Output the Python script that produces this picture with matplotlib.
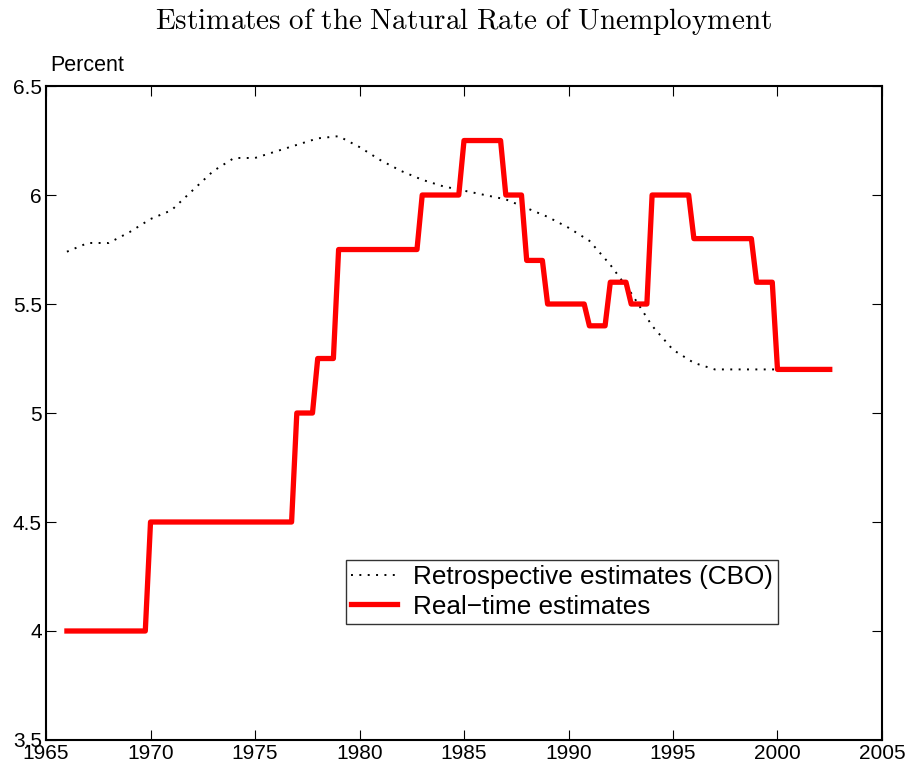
import numpy as np
import matplotlib
matplotlib.use('Agg')
import matplotlib.pyplot as plt

# real-time estimates: one value per year, held for four quarters
rt_years = np.arange(1966, 2003)
rt_values = [4.0, 4.0, 4.0, 4.0,
             4.5, 4.5, 4.5, 4.5, 4.5, 4.5, 4.5,
             5.0, 5.25,
             5.75, 5.75, 5.75, 5.75,
             6.0, 6.0,
             6.25, 6.25,
             6.0, 5.7, 5.5, 5.5, 5.4, 5.6, 5.5,
             6.0, 6.0,
             5.8, 5.8, 5.8,
             5.6,
             5.2, 5.2, 5.2]

# retrospective CBO estimates
cbo_years = [1966, 1967, 1968, 1969, 1970, 1971, 1972, 1973, 1974, 1975,
             1976, 1977, 1978, 1979, 1980, 1981, 1982, 1983, 1984, 1985,
             1986, 1987, 1988, 1989, 1990, 1991, 1992, 1993, 1994, 1995,
             1996, 1997, 1998, 1999, 2000, 2001, 2002, 2002.5]
cbo_values = [5.74, 5.78, 5.78, 5.83, 5.89, 5.93, 6.02, 6.11, 6.17, 6.17,
              6.20, 6.23, 6.26, 6.27, 6.22, 6.16, 6.11, 6.07, 6.04, 6.02,
              6.00, 5.98, 5.94, 5.90, 5.85, 5.79, 5.68, 5.55, 5.40, 5.29,
              5.23, 5.20, 5.20, 5.20, 5.20, 5.20, 5.20, 5.20]

x_ticks = np.arange(1965, 2006, 5)
y_ticks = np.arange(3.5, 6.51, 0.5)

# quarterly positions for the real-time series (data stop at 2002Q3)
rt_x = (np.repeat(rt_years, 4) + np.tile([0, 0.25, 0.5, 0.75], len(rt_years)))[:-1]
rt_y = np.repeat(rt_values, 4)[:-1]

plt.rcParams['font.family'] = ['Liberation Sans', 'DejaVu Sans']
plt.rcParams['mathtext.fontset'] = 'cm'

fig = plt.figure(figsize=(9.06, 7.73), dpi=100)
ax = fig.add_axes([0.0508, 0.0427, 0.9227, 0.846])

ax.plot(cbo_years, cbo_values, color='black', lw=1.4, linestyle=(0, (1.0, 3.3)),
        label='Retrospective estimates (CBO)')
ax.plot(rt_x, rt_y, color='#ff0000', lw=3.8, solid_joinstyle='round',
        label='Real\u2212time estimates')

ax.set_xlim(1965, 2005)
ax.set_ylim(3.5, 6.5)
ax.set_xticks(x_ticks)
ax.set_yticks(y_ticks)
ax.set_xticklabels([str(t) for t in x_ticks])
ax.set_yticklabels([f'{t:g}' for t in y_ticks])
ax.tick_params(direction='in', length=7, width=0.8, top=True, right=True,
               labelsize=15, pad=3)
for s in ax.spines.values():
    s.set_linewidth(1.5)

ax.set_title(r'$\mathrm{Estimates\ of\ the\ Natural\ Rate\ of\ Unemployment}$',
             fontsize=21, pad=41)
ax.text(0.005, 1.015, 'Percent', transform=ax.transAxes, fontsize=15.5,
        ha='left', va='bottom')

leg = ax.legend(loc='upper left', bbox_to_anchor=(0.359, 0.275), fontsize=18.8,
                frameon=True, fancybox=False, edgecolor='black',
                handlelength=1.75, borderpad=0.2, labelspacing=0.2,
                handletextpad=0.6, borderaxespad=0)
leg.get_frame().set_linewidth(1.0)

fig.savefig('out.png', dpi=100)
